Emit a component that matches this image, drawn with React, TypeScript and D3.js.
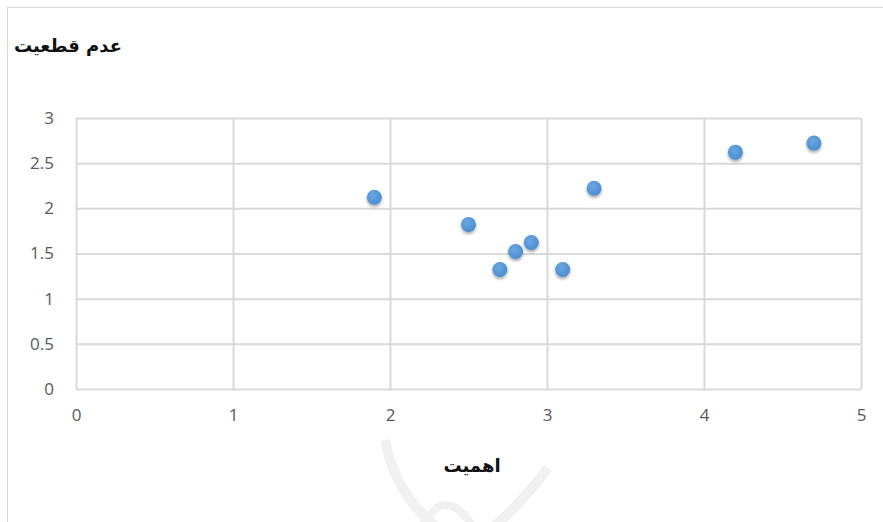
import React, { useEffect, useRef } from "react";
import * as d3 from "d3";

// importance (x) vs uncertainty (y)
const importance = [1.9, 2.5, 2.7, 2.8, 2.9, 3.1, 3.3, 4.2, 4.7];
const uncertainty = [2.1, 1.8, 1.3, 1.5, 1.6, 1.3, 2.2, 2.6, 2.7];
const xTicks = [0, 1, 2, 3, 4, 5];
const yTicks = [0, 0.5, 1, 1.5, 2, 2.5, 3];
const xTitle = "اهمیت";
const yTitle = "عدم قطعیت";

const W = 883;
const H = 522;

export default function App() {
  const ref = useRef<SVGSVGElement>(null);

  useEffect(() => {
    const svg = d3.select(ref.current);
    svg.selectAll("*").remove();

    const x = d3.scaleLinear().domain([0, 5]).range([76, 861]);
    const y = d3.scaleLinear().domain([0, 3]).range([389, 118]);

    svg.append("rect").attr("width", W).attr("height", H).attr("fill", "white");

    // chart border
    svg
      .append("rect")
      .attr("x", 7.5)
      .attr("y", 7.5)
      .attr("width", W + 10)
      .attr("height", H + 10)
      .attr("fill", "none")
      .attr("stroke", "#d9d9d9");

    // faint watermark
    const wm = svg.append("g").attr("fill", "none").attr("stroke", "#f1f1f1").attr("stroke-width", 10);
    wm.append("path").attr("d", "M 385 440 Q 395 495 440 530");
    wm.append("path").attr("d", "M 548 468 Q 520 505 490 530");
    wm.append("path").attr("d", "M 420 530 Q 445 480 475 530").attr("stroke-width", 8);

    const defs = svg.append("defs");
    const f = defs.append("filter").attr("id", "sh").attr("x", "-50%").attr("y", "-50%").attr("width", "200%").attr("height", "200%");
    f.append("feDropShadow")
      .attr("dx", 0)
      .attr("dy", 2)
      .attr("stdDeviation", 1.5)
      .attr("flood-color", "#000")
      .attr("flood-opacity", 0.35);
    const g = defs.append("radialGradient").attr("id", "mk").attr("cx", "40%").attr("cy", "35%").attr("r", "70%");
    g.append("stop").attr("offset", "0%").attr("stop-color", "#6aa8e0");
    g.append("stop").attr("offset", "100%").attr("stop-color", "#4a8bcf");

    // y grid + labels
    svg
      .append("g")
      .attr("transform", "translate(76,0)")
      .call(
        d3
          .axisLeft(y)
          .tickValues(yTicks)
          .tickSize(-(861 - 76))
          .tickPadding(22)
          .tickFormat((d) => String(d))
      )
      .call((s) => s.select(".domain").remove())
      .call((s) => s.selectAll(".tick line").attr("stroke", "#d9d9d9").attr("stroke-width", 2))
      .call((s) =>
        s
          .selectAll(".tick text")
          .attr("fill", "#595959")
          .style("font-size", "17px")
          .style("font-family", "'Open Sans', sans-serif")
      );

    // x grid + labels
    svg
      .append("g")
      .attr("transform", "translate(0,389)")
      .call(
        d3
          .axisBottom(x)
          .tickValues(xTicks)
          .tickSize(-(389 - 118))
          .tickPadding(20)
          .tickFormat((d) => String(d))
      )
      .call((s) => s.select(".domain").remove())
      .call((s) => s.selectAll(".tick line").attr("stroke", "#d9d9d9").attr("stroke-width", 2))
      .call((s) =>
        s
          .selectAll(".tick text")
          .attr("fill", "#595959")
          .style("font-size", "17px")
          .style("font-family", "'Open Sans', sans-serif")
      );

    // points
    svg
      .append("g")
      .selectAll("circle")
      .data(importance.map((v, i) => [v, uncertainty[i]]))
      .join("circle")
      .attr("cx", (d) => x(d[0]))
      .attr("cy", (d) => y(d[1]) - 2)
      .attr("r", 7.5)
      .attr("fill", "url(#mk)")
      .attr("filter", "url(#sh)");

    // titles
    svg
      .append("text")
      .attr("x", 122)
      .attr("y", 52)
      .attr("text-anchor", "end")
      .style("font-size", "18px")
      .attr("font-weight", "bold")
      .attr("font-family", "'DejaVu Sans', sans-serif")
      .attr("fill", "#111")
      .text(yTitle);

    svg
      .append("text")
      .attr("x", 472)
      .attr("y", 472)
      .attr("text-anchor", "middle")
      .style("font-size", "18px")
      .attr("font-weight", "bold")
      .attr("font-family", "'DejaVu Sans', sans-serif")
      .attr("fill", "#111")
      .text(xTitle);
  }, []);

  return (
    <svg
      ref={ref}
      width={W}
      height={H}
      style={{ position: "absolute", left: 0, top: 0 }}
    />
  );
}
